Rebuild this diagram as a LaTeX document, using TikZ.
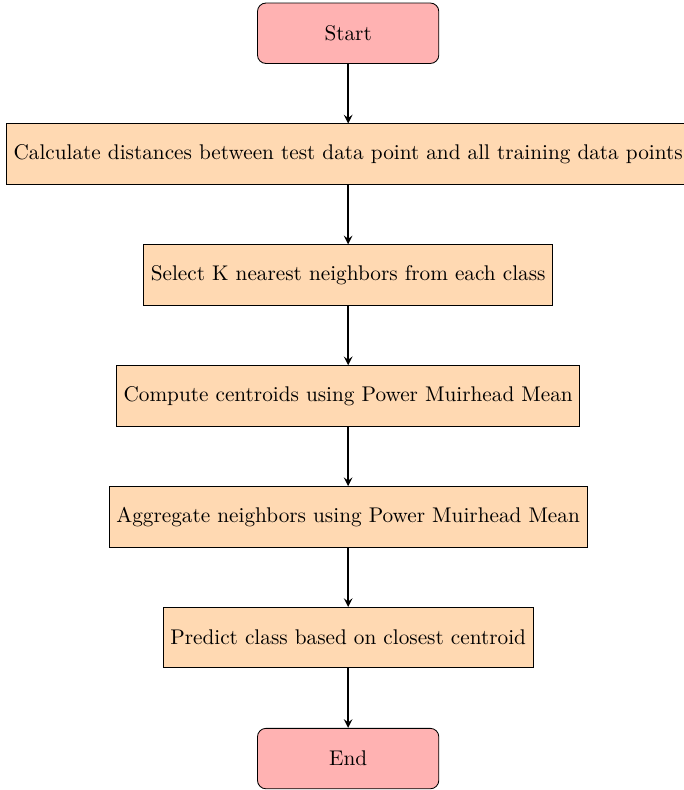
\documentclass[tikz,border=0pt]{standalone}
\usepackage{amssymb,amsmath}
\usepackage{tikz}
\usetikzlibrary{%
  arrows,%
  positioning,%
  shapes.geometric%
}
\tikzset{>=stealth}
\tikzset{
  startstop/.style={rectangle, rounded corners, minimum width=3cm,
    minimum height=1cm, text centered, draw=black, fill=red!30},
  process/.style={rectangle, minimum width=3cm, minimum height=1cm,
    text centered, draw=black, fill=orange!30},
  arrow/.style={thick,->}
}

\begin{document}
\begin{tikzpicture}[node distance=2cm, on grid]
        \useasboundingbox (-5.76,0.55) rectangle (5.54,-12.52);
        \node (start) [startstop] {Start};
        \node (dist) [process, below=of start] {Calculate distances between test data point and all training data points};
        \node (knn) [process, below=of dist] {Select K nearest neighbors from each class};
        \node (cent) [process, below=of knn] {Compute centroids using Power Muirhead Mean};
        \node (aggr) [process, below=of cent] {Aggregate neighbors using Power Muirhead Mean};
        \node (pred) [process, below=of aggr] {Predict class based on closest centroid};
        \node (stop) [startstop, below=of pred] {End};
        \draw [arrow] (start) -- (dist);
        \draw [arrow] (dist) -- (knn);
        \draw [arrow] (knn) -- (cent);
        \draw [arrow] (cent) -- (aggr);
        \draw [arrow] (aggr) -- (pred);
        \draw [arrow] (pred) -- (stop);
      \end{tikzpicture}
\end{document}
